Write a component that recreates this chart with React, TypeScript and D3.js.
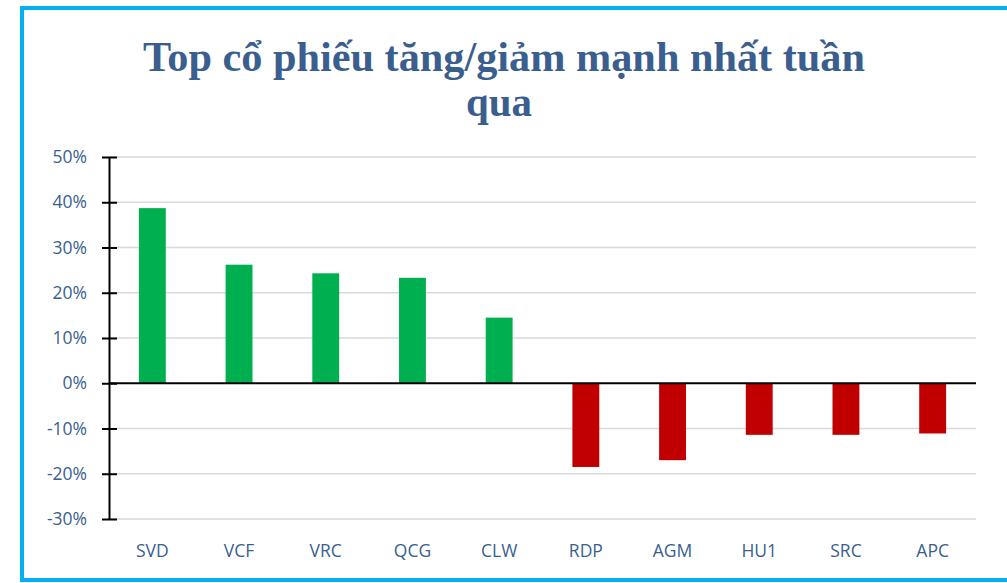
import React, { useEffect, useRef } from "react";
import * as d3 from "d3";

// số liệu
const tickers = ["SVD", "VCF", "VRC", "QCG", "CLW", "RDP", "AGM", "HU1", "SRC", "APC"];
const changes = [0.387, 0.262, 0.243, 0.233, 0.145, -0.185, -0.17, -0.114, -0.114, -0.111];
const yTicks = [0.5, 0.4, 0.3, 0.2, 0.1, 0, -0.1, -0.2, -0.3];
const titleLines = ["Top cổ phiếu tăng/giảm mạnh nhất tuần", "qua"];

const W = 1007;
const H = 583;
const axisX = 109;
const plotRight = 976;
const blue = "#3A5F8F";

function App() {
  const svgRef = useRef<SVGSVGElement>(null);

  useEffect(() => {
    const svg = d3.select(svgRef.current);
    svg.selectAll("*").remove();

    // khung viền xanh
    svg.append("rect")
      .attr("x", 22).attr("y", 8)
      .attr("width", 1000).attr("height", 572)
      .attr("fill", "white")
      .attr("stroke", "#00B0F0")
      .attr("stroke-width", 4);

    // tiêu đề
    svg.append("text")
      .attr("x", 504).attr("y", 71)
      .attr("text-anchor", "middle")
      .attr("textLength", 722)
      .attr("lengthAdjust", "spacingAndGlyphs")
      .style("font-family", "'Liberation Serif', 'Times New Roman', serif")
      .style("font-weight", "bold")
      .style("font-size", "42px")
      .attr("fill", blue)
      .text(titleLines[0]);
    svg.append("text")
      .attr("x", 499).attr("y", 116)
      .attr("text-anchor", "middle")
      .attr("textLength", 66)
      .attr("lengthAdjust", "spacingAndGlyphs")
      .style("font-family", "'Liberation Serif', 'Times New Roman', serif")
      .style("font-weight", "bold")
      .style("font-size", "42px")
      .attr("fill", blue)
      .text(titleLines[1]);

    const y = d3.scaleLinear().domain([-0.3, 0.5]).range([519, 157]);
    const x = d3.scaleBand<string>()
      .domain(tickers)
      .range([axisX, plotRight])
      .paddingInner(0.69)
      .paddingOuter(0.345);

    // lưới ngang
    svg.append("g")
      .selectAll("line")
      .data(yTicks.filter((t) => t !== 0))
      .join("line")
      .attr("x1", axisX).attr("x2", plotRight)
      .attr("y1", (d) => y(d)).attr("y2", (d) => y(d))
      .attr("stroke", "#D9D9D9")
      .attr("stroke-width", 1.5);

    // cột
    svg.append("g")
      .selectAll("rect")
      .data(changes)
      .join("rect")
      .attr("x", (d, i) => x(tickers[i])!)
      .attr("y", (d) => y(Math.max(0, d)))
      .attr("width", x.bandwidth())
      .attr("height", (d) => Math.abs(y(d) - y(0)))
      .attr("fill", (d) => (d >= 0 ? "#00B050" : "#C00000"));

    // trục y
    const yAxis = d3.axisLeft(y)
      .tickValues(yTicks)
      .tickSizeInner(7)
      .tickSizeOuter(0)
      .tickPadding(15)
      .tickFormat((d) => Math.round((d as number) * 100) + "%");
    const gy = svg.append("g")
      .attr("transform", `translate(${axisX},0)`)
      .call(yAxis);
    gy.select(".domain").attr("stroke", "black").attr("stroke-width", 2);
    gy.selectAll(".tick line")
      .attr("x1", -7).attr("x2", 8)
      .attr("stroke", "black").attr("stroke-width", 2);
    gy.selectAll(".tick text")
      .attr("fill", blue)
      .style("font-family", "'Open Sans', sans-serif")
      .style("font-size", "17.5px");

    // đường 0%
    svg.append("line")
      .attr("x1", axisX).attr("x2", plotRight)
      .attr("y1", y(0)).attr("y2", y(0))
      .attr("stroke", "black").attr("stroke-width", 2);

    // nhãn mã cổ phiếu
    svg.append("g")
      .selectAll("text")
      .data(tickers)
      .join("text")
      .attr("x", (d) => x(d)! + x.bandwidth() / 2)
      .attr("y", 557)
      .attr("text-anchor", "middle")
      .attr("fill", blue)
      .style("font-family", "'Open Sans', sans-serif")
      .style("font-size", "17.5px")
      .text((d) => d);
  }, []);

  return (
    <svg ref={svgRef} width={W} height={H}
      style={{ position: "absolute", left: 0, top: 0, background: "white" }} />
  );
}

export default App;
